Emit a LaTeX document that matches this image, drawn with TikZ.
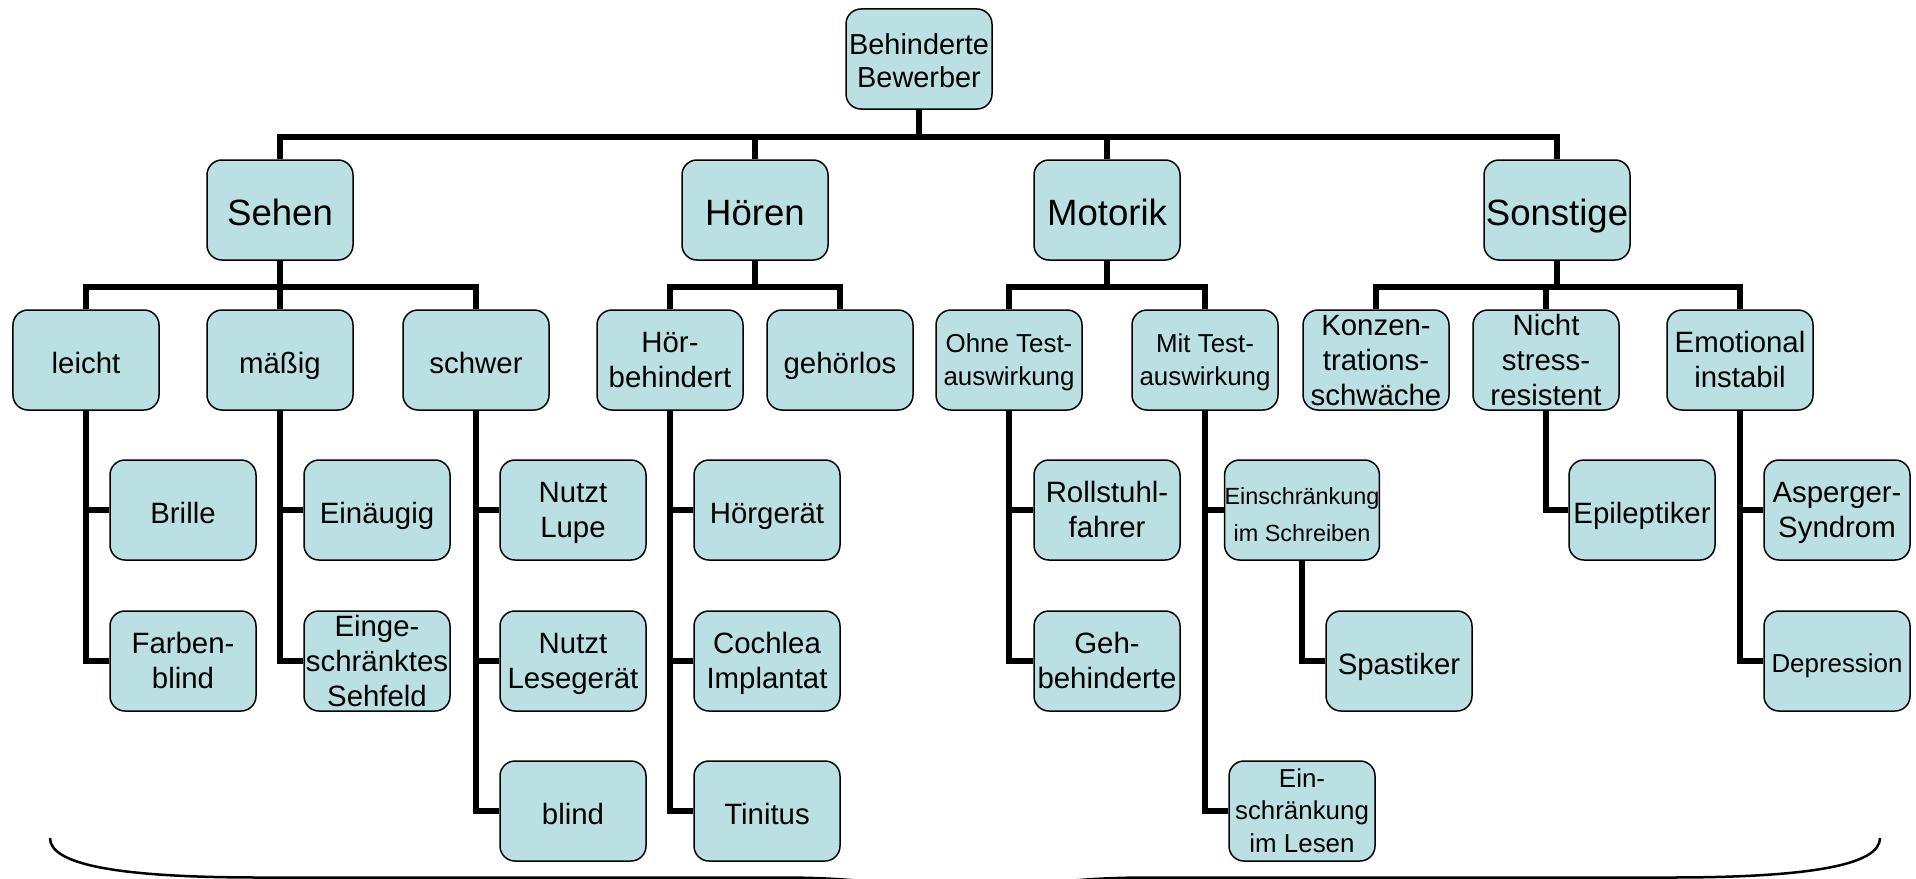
\documentclass[tikz,border=0pt]{standalone}
\usepackage{fontspec}
\setmainfont{Liberation Sans}
\definecolor{boxc}{RGB}{187,224,227}
\newcommand\fs{\rule{0pt}{0.905em}}
\newcommand\fsb{\rule{0pt}{\dimexpr0.905em+10bp\relax}}
\tikzset{
  box/.style={draw=black, line width=1.5bp, fill=boxc, rounded corners=15bp,
    minimum width=146bp, minimum height=100bp, inner sep=0pt, align=center,
    font=\fontsize{29.5}{35}\selectfont,
    execute at begin node={\rule{0pt}{\dimexpr0.905em+6bp\relax}},
    execute at end node={\rule[-0.212em]{0pt}{0.212em}}},
  tall/.style={inner ysep=-2.5bp},
  big/.style={font=\fontsize{36.7}{42}\selectfont},
  root/.style={font=\fontsize{29}{33}\selectfont},
  smaller/.style={font=\fontsize{26}{33}\selectfont},
  tiny/.style={font=\fontsize{23.5}{37}\selectfont},
  conn/.style={line width=5.5bp, line join=miter},
  brace/.style={line width=2.5bp}
}
\begin{document}
\begin{tikzpicture}[x=1bp,y=-1bp]
\useasboundingbox (0,0) rectangle (1916,879);
% root and level 1
\node[box,root] (root) at (919,59) {\rule{0pt}{\dimexpr0.905em+4bp\relax}Behinderte\\Bewerber};
\node[box,big] (sehen) at (280,210) {Sehen};
\node[box,big] (hoeren) at (755,210) {Hören};
\node[box,big] (motorik) at (1107,210) {Motorik};
\node[box,big] (sonstige) at (1557,210) {Sonstige};
% level 2
\node[box] (leicht) at (86,360) {leicht};
\node[box] (maessig) at (280,360) {mäßig};
\node[box] (schwer) at (476,360) {schwer};
\node[box] (hoerbeh) at (670,360) {\fs Hör-\\behindert};
\node[box] (gehoerlos) at (840,360) {gehörlos};
\node[box,smaller] (ohne) at (1009,360) {\fs Ohne Test-\\auswirkung};
\node[box,smaller] (mit) at (1205,360) {\fs Mit Test-\\auswirkung};
\node[box,tall] (konzen) at (1376,360) {\fs Konzen-\\trations-\\schwäche};
\node[box,tall] (nicht) at (1546,360) {\fs Nicht\\stress-\\resistent};
\node[box] (emotional) at (1740,360) {\fs Emotional\\instabil};
% level 3
\node[box] (brille) at (183,510) {Brille};
\node[box] (farben) at (183,661) {\fs Farben-\\blind};
\node[box] (einaeugig) at (377,510) {Einäugig};
\node[box,tall] (sehfeld) at (377,661) {\fs Einge-\\schränktes\\Sehfeld};
\node[box] (lupe) at (573,510) {\fs Nutzt\\Lupe};
\node[box] (lesegeraet) at (573,661) {\fs Nutzt\\Lesegerät};
\node[box] (blind) at (573,811) {blind};
\node[box] (hoergeraet) at (767,510) {Hörgerät};
\node[box] (cochlea) at (767,661) {\fs Cochlea\\Implantat};
\node[box] (tinitus) at (767,811) {Tinitus};
\node[box] (rollstuhl) at (1107,510) {\fs Rollstuhl-\\fahrer};
\node[box] (geh) at (1107,661) {\fs Geh-\\behinderte};
\node[box,tiny] (schreiben) at (1302,510) {\fsb Einschränkung\\im Schreiben};
\node[box,smaller] (lesen) at (1302,811) {\fs Ein-\\schränkung\\im Lesen};
\node[box] (spastiker) at (1399,661) {Spastiker};
\node[box] (epileptiker) at (1642,510) {Epileptiker};
\node[box] (asperger) at (1837,510) {\fs Asperger-\\Syndrom};
\node[box,smaller] (depression) at (1837,661) {Depression};
% connectors root -> level 1
\foreach \c in {sehen,hoeren,motorik,sonstige}
  \draw[conn] (root.south) -- ++(0,27) -| (\c.north);
% level 1 -> level 2
\foreach \c in {leicht,maessig,schwer}
  \draw[conn] (sehen.south) -- ++(0,26) -| (\c.north);
\foreach \c in {hoerbeh,gehoerlos}
  \draw[conn] (hoeren.south) -- ++(0,26) -| (\c.north);
\foreach \c in {ohne,mit}
  \draw[conn] (motorik.south) -- ++(0,26) -| (\c.north);
\foreach \c in {konzen,nicht,emotional}
  \draw[conn] (sonstige.south) -- ++(0,26) -| (\c.north);
% level 2 -> level 3
\foreach \p/\c in {leicht/brille,leicht/farben,maessig/einaeugig,maessig/sehfeld,
  schwer/lupe,schwer/lesegeraet,schwer/blind,hoerbeh/hoergeraet,hoerbeh/cochlea,
  hoerbeh/tinitus,ohne/rollstuhl,ohne/geh,mit/schreiben,mit/lesen,
  schreiben/spastiker,nicht/epileptiker,emotional/asperger,emotional/depression}
  \draw[conn] (\p.south) |- (\c.west);
% brace
\begin{scope}
\clip (0,0) rectangle (1916,879);
\draw[brace] (50,838) .. controls (50,865) and (120,877.5) .. (260,877.5)
  -- (780,877.5) .. controls (880,877.5) and (965,890) .. (965,930);
\draw[brace] (1880,838) .. controls (1880,865) and (1810,877.5) .. (1670,877.5)
  -- (1150,877.5) .. controls (1050,877.5) and (965,890) .. (965,930);
\end{scope}
\end{tikzpicture}
\end{document}
